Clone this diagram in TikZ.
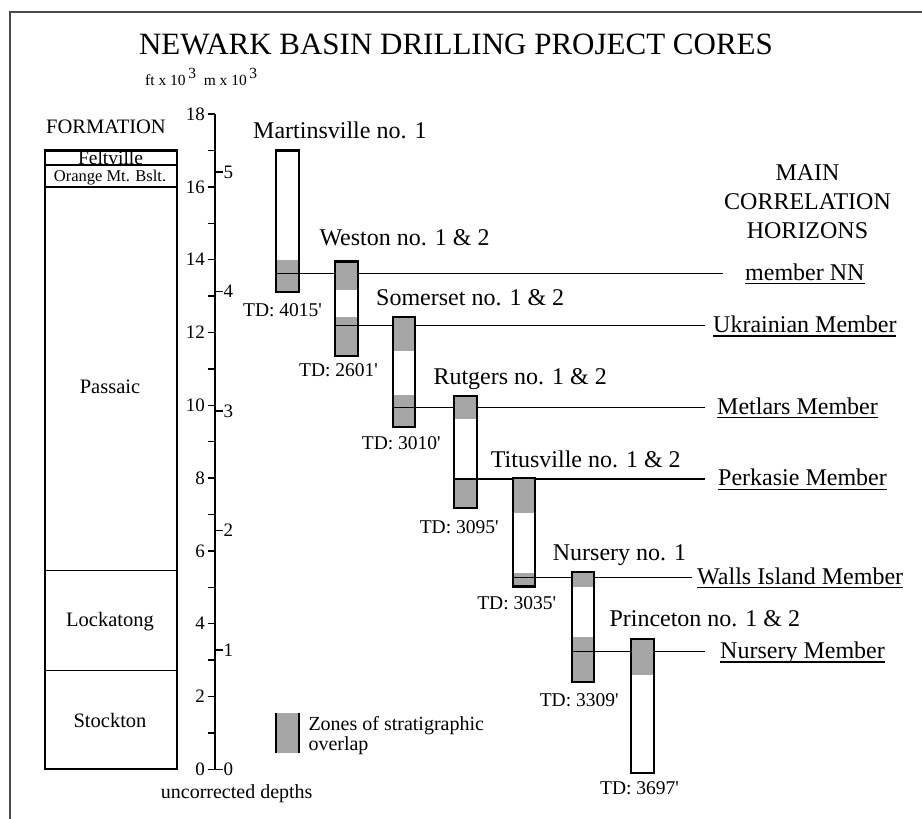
\documentclass[tikz,border=0pt]{standalone}
\usepackage{fontspec}
\setmainfont{Liberation Serif}
\newfontfamily\tdfont[Ligatures=TeXOff]{Liberation Serif}
\usetikzlibrary{positioning}

\newcommand{\horizonul}[1]{\setbox0=\hbox{#1}\rlap{\rule[-4pt]{\wd0}{1.2pt}}\box0}
\newcommand{\cubed}{\,\raisebox{0.45em}{3}}

\begin{document}
\begin{tikzpicture}[x=1pt,y=36.4pt,
	core/.style={draw=black,line width=2.2pt},
	overlap/.style={fill=black!35},
	horizon/.style={line width=1.3pt},
	axistick/.style={line width=1.5pt},
	corename/.style={anchor=base west,inner sep=0pt,font=\fontsize{24}{24}\selectfont},
	tdname/.style={anchor=base,inner sep=0pt,font=\tdfont\fontsize{19.5}{20}\selectfont},
	member/.style={anchor=base west,inner sep=0pt,font=\fontsize{24}{24}\selectfont},
	scalenum/.style={inner sep=1pt,font=\fontsize{19}{19}\selectfont},
	formname/.style={inner sep=0pt,font=\fontsize{20.5}{21}\selectfont}]
		\useasboundingbox (0,-1.365) rectangle (922,21.135);
		% frame
		\draw[black!70,line width=1.2pt] (10,-1.365) -- (10,20.805) -- (922,20.805);
		\node (title) at (456,19.9) {\fontsize{31}{31}\selectfont NEWARK BASIN DRILLING PROJECT CORES};
		\node[anchor=base west,inner sep=0pt] (units) at (145,18.78) {\fontsize{15.5}{16}\selectfont ft x 10\cubed\ \ m x 10\cubed};
		% formation column
		\node[formname,anchor=base] (formation) at (106,17.48) {FORMATION};
		\node[anchor=base,inner sep=0pt] (feltville) at (110.5,16.62) {\fontsize{19.5}{20}\selectfont Feltville};
		\node[anchor=base,inner sep=0pt] (orange) at (110,16.16) {\fontsize{16.5}{17}\selectfont Orange Mt. Bslt.};
		\node[formname] (passaic) at (110,10.52) {Passaic};
		\node[formname] (lockatong) at (110,4.05) {Lockatong};
		\node[formname] (stockton) at (110,1.33) {Stockton};
		\draw[core] (45,0) rectangle (176.7,17);
		\draw[core] (45,16.6) -- (176.7,16.6);
		\draw[core] (45,16) -- (176.7,16);
		\draw[line width=1pt] (45,5.45) -- (176.7,5.45);
		\draw[line width=1pt] (45,2.71) -- (176.7,2.71);
		% depth scale
		\draw[line width=2pt] (215,0) -- (215,18);
		\foreach \f in {0,...,18} \draw[axistick] (207.5,\f) -- (215,\f);
		\foreach \f in {0,2,...,18} \node[scalenum,anchor=east] (ft\f) at (206,\f) {\f};
		\foreach \m in {0,...,5} {
			\draw[axistick] (215,\m*3.2808) -- (222.5,\m*3.2808);
			\node[scalenum,anchor=west] (m\m) at (222.5,\m*3.2808) {\m};
		}
		\node[anchor=base east,inner sep=0pt] (uncorr) at (312.7,-0.79) {\fontsize{20}{20}\selectfont uncorrected depths};
		% legend
		\fill[overlap] (276,0.44) rectangle (299.3,1.54);
		\draw[core] (276,0.44) -- (276,1.54);
		\draw[core] (299.3,0.44) -- (299.3,1.54);
		\node[anchor=base west,inner sep=0pt] (zones) at (308.3,1.06) {\fontsize{20}{20}\selectfont Zones of stratigraphic};
		\node[anchor=base west,inner sep=0pt] (zones2) at (308.3,0.53) {\fontsize{20}{20}\selectfont overlap};
		\node[align=center,font=\fontsize{24}{29}\selectfont] (horizons) at (807.5,15.6) {MAIN\\CORRELATION\\HORIZONS};
		% Martinsville no. 1
		\fill[overlap] (276,13.12) rectangle (299,14.0);
		\draw[core] (276,13.12) rectangle (299,17);
		\node[corename] (martname) at (253,17.34) {Martinsville no. 1};
		\node[tdname] (marttd) at (282.5,12.45) {TD: 4015'};
		\coordinate (nnstart) at (276,13.62);
		\coordinate (nnend) at (723,13.62);
		\draw[horizon] (nnstart) -- (nnend);
		\node[member] (nn) at (745,13.43) {\horizonul{member NN}};
		% Weston no. 1 & 2
		\fill[white] (335.3,11.36) rectangle (357.7,13.95);
		\fill[overlap] (335.3,13.17) rectangle (357.7,13.95);
		\fill[overlap] (335.3,11.36) rectangle (357.7,12.43);
		\draw[core] (335.3,11.36) rectangle (357.7,13.95);
		\node[corename] (westonname) at (319.3,14.40) {Weston no. 1 \& 2};
		\node[tdname] (westontd) at (338.5,10.79) {TD: 2601'};
		\coordinate (ukrstart) at (335.3,12.19);
		\coordinate (ukrend) at (705,12.19);
		\draw[horizon] (ukrstart) -- (ukrend);
		\node[member] (ukr) at (713,12.0) {\horizonul{Ukrainian Member}};
		% Somerset no. 1 & 2
		\fill[white] (393.3,9.41) rectangle (415.3,12.42);
		\fill[overlap] (393.3,11.5) rectangle (415.3,12.42);
		\fill[overlap] (393.3,9.41) rectangle (415.3,10.28);
		\draw[core] (393.3,9.41) rectangle (415.3,12.42);
		\node[corename] (somname) at (376,12.73) {Somerset no. 1 \& 2};
		\node[tdname] (somtd) at (401.3,8.79) {TD: 3010'};
		\coordinate (metstart) at (393.3,9.945);
		\coordinate (metend) at (705,9.945);
		\draw[horizon] (metstart) -- (metend);
		\node[member] (met) at (717,9.755) {\horizonul{Metlars Member}};
		% Rutgers no. 1 & 2
		\fill[white] (454.3,7.17) rectangle (476.7,10.26);
		\fill[overlap] (454.3,9.62) rectangle (476.7,10.26);
		\fill[overlap] (454.3,7.17) rectangle (476.7,7.98);
		\draw[core] (454.3,7.17) rectangle (476.7,10.26);
		\node[corename] (rutname) at (433.3,10.56) {Rutgers no. 1 \& 2};
		\node[tdname] (ruttd) at (459.2,6.48) {TD: 3095'};
		\coordinate (perstart) at (454.3,7.975);
		\coordinate (perend) at (705,7.975);
		\draw[horizon] (perstart) -- (perend);
		\node[member] (per) at (718,7.785) {\horizonul{Perkasie Member}};
		% Titusville no. 1 & 2
		\fill[white] (512.7,5.02) rectangle (535.3,8.01);
		\fill[overlap] (512.7,7.03) rectangle (535.3,8.01);
		\fill[overlap] (512.7,5.02) rectangle (535.3,5.40);
		\draw[core] (512.7,5.02) rectangle (535.3,8.01);
		\node[corename] (titname) at (490.7,8.30) {Titusville no. 1 \& 2};
		\node[tdname] (tittd) at (516.7,4.38) {TD: 3035'};
		\coordinate (wallstart) at (512.7,5.27);
		\coordinate (wallend) at (692,5.27);
		\draw[horizon] (wallstart) -- (wallend);
		\node[member] (wall) at (697,5.08) {\horizonul{Walls Island Member}};
		% Nursery no. 1
		\fill[white] (571.7,2.39) rectangle (594,5.41);
		\fill[overlap] (571.7,5.02) rectangle (594,5.41);
		\fill[overlap] (571.7,2.39) rectangle (594,3.64);
		\draw[core] (571.7,2.39) rectangle (594,5.41);
		\node[corename] (nurname) at (552.7,5.73) {Nursery no. 1};
		\node[tdname] (nurtd) at (579.2,1.72) {TD: 3309'};
		\coordinate (nurstart) at (571.7,3.23);
		\coordinate (nurend) at (705,3.23);
		\draw[horizon] (nurstart) -- (nurend);
		\node[member] (nur) at (720,3.04) {\horizonul{Nursery Member}};
		% Princeton no. 1 & 2
		\fill[white] (631,-0.11) rectangle (654,3.57);
		\fill[overlap] (631,2.59) rectangle (654,3.57);
		\draw[core] (631,-0.11) rectangle (654,3.57);
		\node[corename] (prinname) at (609.3,3.92) {Princeton no. 1 \& 2};
		\node[tdname] (printd) at (639.5,-0.68) {TD: 3697'};
	\end{tikzpicture}
\end{document}
